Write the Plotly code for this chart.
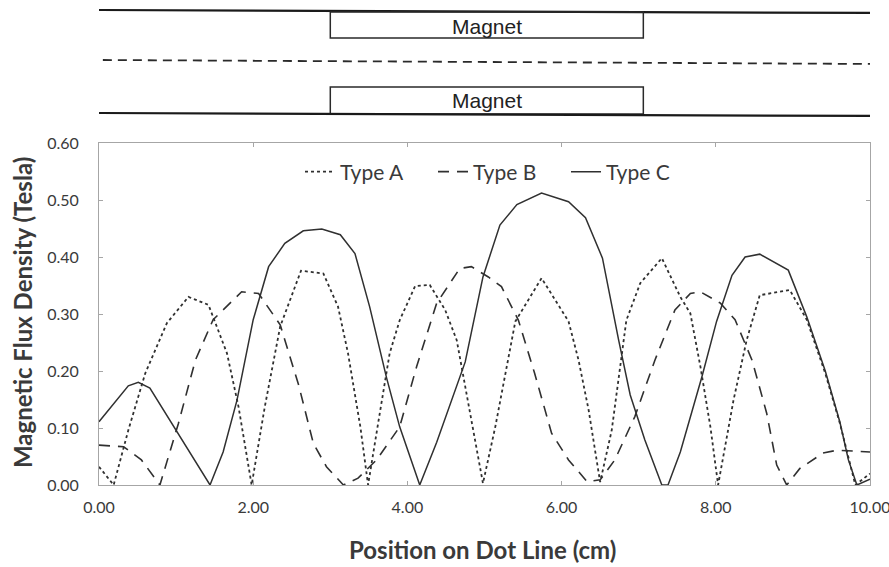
import plotly.graph_objects as go

# Flux density along the dot line between the two magnets (Tesla)
type_a_x = [0, 0.19, 0.38, 0.60, 0.88, 1.16, 1.42, 1.66, 1.81, 1.98, 2.15, 2.35, 2.62, 2.91,
            3.10, 3.23, 3.39, 3.49, 3.62, 3.77, 3.90, 4.10, 4.29, 4.49, 4.64, 4.83, 4.98,
            5.14, 5.40, 5.74, 6.09, 6.22, 6.35, 6.50, 6.65, 6.84, 7.02, 7.30, 7.54, 7.67,
            7.80, 7.93, 8.03, 8.23, 8.40, 8.57, 8.96, 9.18, 9.42, 9.61, 9.81, 10.0]
type_a_y = [0.032, 0.0, 0.096, 0.196, 0.284, 0.330, 0.316, 0.231, 0.137, 0.0, 0.137, 0.278, 0.376, 0.371,
            0.313, 0.231, 0.102, 0.0, 0.108, 0.231, 0.289, 0.349, 0.351, 0.307, 0.254, 0.114, 0.003,
            0.102, 0.287, 0.363, 0.287, 0.219, 0.132, 0.005, 0.096, 0.289, 0.354, 0.398, 0.330, 0.301,
            0.208, 0.102, 0.0, 0.149, 0.254, 0.333, 0.342, 0.290, 0.196, 0.108, 0.0, 0.020]

type_b_x = [0, 0.32, 0.55, 0.79, 1.03, 1.25, 1.48, 1.85, 2.07, 2.35, 2.59, 2.78, 2.95, 3.17,
            3.36, 3.60, 3.90, 4.12, 4.38, 4.68, 4.83, 5.05, 5.22, 5.44, 5.65, 5.87, 6.09, 6.33,
            6.50, 6.69, 6.95, 7.21, 7.47, 7.67, 7.80, 8.06, 8.25, 8.47, 8.66, 8.79, 8.92, 9.09,
            9.39, 9.57, 10.0]
type_b_y = [0.070, 0.067, 0.044, 0.0, 0.108, 0.219, 0.290, 0.339, 0.336, 0.281, 0.175, 0.073, 0.032, 0.0,
            0.012, 0.044, 0.102, 0.208, 0.319, 0.380, 0.383, 0.365, 0.348, 0.289, 0.196, 0.091, 0.044, 0.006,
            0.009, 0.044, 0.120, 0.219, 0.307, 0.336, 0.339, 0.319, 0.290, 0.219, 0.126, 0.035, 0.0, 0.029,
            0.056, 0.061, 0.058]

type_c_x = [0, 0.38, 0.51, 0.66, 1.44, 1.61, 1.79, 2.00, 2.20, 2.41, 2.65, 2.89, 3.13, 3.32,
            3.51, 3.73, 3.90, 4.16, 4.38, 4.75, 4.98, 5.20, 5.42, 5.74, 6.09, 6.31, 6.53, 6.74,
            6.89, 7.08, 7.30, 7.38, 7.54, 7.82, 8.01, 8.21, 8.38, 8.57, 8.94, 9.18, 9.42, 9.61,
            9.72, 9.83, 10.0]
type_c_y = [0.111, 0.174, 0.180, 0.170, 0.0, 0.058, 0.149, 0.290, 0.383, 0.424, 0.446, 0.449, 0.439, 0.406,
            0.313, 0.188, 0.102, 0.0, 0.075, 0.216, 0.365, 0.456, 0.492, 0.512, 0.497, 0.469, 0.398, 0.254,
            0.158, 0.079, 0.0, 0.0, 0.058, 0.190, 0.287, 0.368, 0.400, 0.405, 0.377, 0.295, 0.200, 0.110,
            0.044, 0.0, 0.010]

x_ticks = [0, 2, 4, 6, 8, 10]
y_ticks = [0, 0.1, 0.2, 0.3, 0.4, 0.5, 0.6]

LINE = "#303030"
FRAME = "#a6a6a6"
TEXT = "#3a3a3a"
FONT = "Lato"

fig = go.Figure()
fig.add_trace(go.Scatter(x=type_a_x, y=type_a_y, mode="lines", name="Type A",
                         line=dict(color=LINE, width=1.8, dash="3px,3px")))
fig.add_trace(go.Scatter(x=type_b_x, y=type_b_y, mode="lines", name="Type B",
                         line=dict(color=LINE, width=1.6, dash="11px,8px")))
fig.add_trace(go.Scatter(x=type_c_x, y=type_c_y, mode="lines", name="Type C",
                         line=dict(color=LINE, width=1.5)))

# plot height in px, used to place the magnet sketch above the axes
H = 342.0


def py(pix):
    return (485.0 - pix) / H


shapes = [
    # upper wall and magnet
    dict(type="line", xref="x", yref="paper", x0=0.0, x1=10.1, y0=py(10), y1=py(13),
         line=dict(color="#1a1a1a", width=2.2)),
    dict(type="rect", xref="x", yref="paper", x0=3.0, x1=7.06, y0=py(38), y1=py(12),
         line=dict(color="#2a2a2a", width=1.5), fillcolor="rgba(0,0,0,0)"),
    # dot line along the centre
    dict(type="line", xref="x", yref="paper", x0=0.05, x1=10.1, y0=py(60), y1=py(64),
         line=dict(color="#2a2a2a", width=1.8, dash="9px,6px")),
    # lower magnet and wall
    dict(type="rect", xref="x", yref="paper", x0=3.0, x1=7.06, y0=py(114), y1=py(87),
         line=dict(color="#2a2a2a", width=1.5), fillcolor="rgba(0,0,0,0)"),
    dict(type="line", xref="x", yref="paper", x0=0.0, x1=10.1, y0=py(113), y1=py(116),
         line=dict(color="#1a1a1a", width=2.2)),
]

MAGNET_FONT = dict(family="Liberation Sans", size=21, color="#222222")
annotations = [
    dict(text="Magnet", xref="x", yref="paper", x=5.03, y=py(26), xanchor="center", yanchor="middle",
         showarrow=False, font=MAGNET_FONT),
    dict(text="Magnet", xref="x", yref="paper", x=5.03, y=py(100), xanchor="center", yanchor="middle",
         showarrow=False, font=MAGNET_FONT),
    dict(text="<b>Magnetic Flux Density (Tesla)</b>", xref="paper", yref="paper",
         x=(22 - 99) / 771.0, y=py(313), xanchor="center", yanchor="middle", textangle=-90,
         showarrow=False, font=dict(family=FONT, size=24, color=TEXT)),
    dict(text="<b>Position on Dot Line (cm)</b>", xref="paper", yref="paper",
         x=(482 - 99) / 771.0, y=py(549), xanchor="center", yanchor="middle", showarrow=False,
         font=dict(family=FONT, size=24, color=TEXT)),
]

fig.update_layout(
    width=889, height=567,
    margin=dict(l=99, r=19, t=143, b=82, autoexpand=False),
    paper_bgcolor="white", plot_bgcolor="white",
    font=dict(family=FONT, color=TEXT),
    shapes=shapes, annotations=annotations,
    legend=dict(orientation="h", x=(300 - 99) / 771.0, xanchor="left", y=py(172), yanchor="middle",
                font=dict(family=FONT, size=21, color=TEXT), bgcolor="rgba(0,0,0,0)",
                entrywidth=88, entrywidthmode="pixels", tracegroupgap=0),
    showlegend=True,
)

fig.update_xaxes(range=[0, 10], tickvals=x_ticks, tickformat=".2f", showgrid=False, zeroline=False,
                 showline=True, linecolor=FRAME, linewidth=1, mirror="ticks",
                 ticks="inside", ticklen=4, tickcolor=FRAME, ticklabeloverflow="allow",
                 tickfont=dict(family=FONT, size=16, color=TEXT), ticklabelstandoff=8)
fig.update_yaxes(range=[0, 0.6], tickvals=y_ticks, tickformat=".2f", showgrid=False, zeroline=False,
                 showline=True, linecolor=FRAME, linewidth=1, mirror="ticks",
                 ticks="inside", ticklen=4, tickcolor=FRAME,
                 tickfont=dict(family=FONT, size=16, color=TEXT), ticklabelstandoff=16)

fig.write_html("out.html")
